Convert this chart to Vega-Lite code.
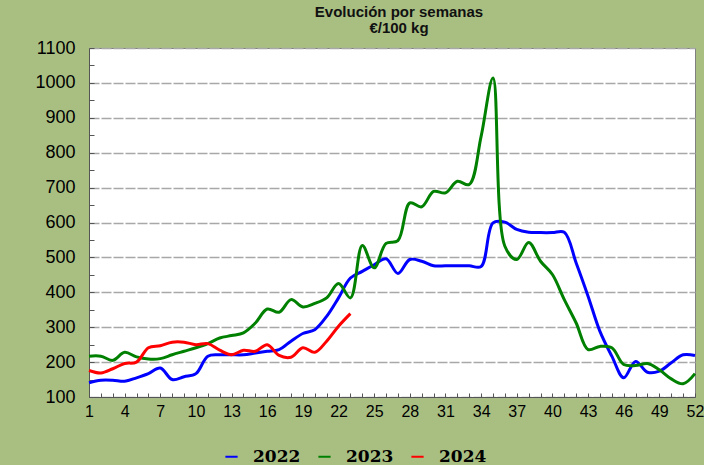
{
  "$schema": "https://vega.github.io/schema/vega-lite/v6.json",
  "width": 606,
  "height": 349,
  "autosize": {"type": "none"},
  "padding": {"left": 89, "top": 48, "right": 9, "bottom": 68},
  "background": "#a9bf82",
  "title": {
    "text": ["Evolución por semanas", "€/100 kg"],
    "font": "Liberation Sans",
    "fontSize": 15,
    "fontWeight": "bold",
    "color": "#111111",
    "lineHeight": 16,
    "offset": 3,
    "dx": 7,
    "anchor": "middle"
  },
  "data": {
    "values": [
      {"semana": 1, "year": "2022", "precio": 141}, {"semana": 2, "year": "2022", "precio": 148}, {"semana": 3, "year": "2022", "precio": 148}, {"semana": 4, "year": "2022", "precio": 145}, {"semana": 5, "year": "2022", "precio": 155}, {"semana": 6, "year": "2022", "precio": 167}, {"semana": 7, "year": "2022", "precio": 183}, {"semana": 8, "year": "2022", "precio": 150}, {"semana": 9, "year": "2022", "precio": 158}, {"semana": 10, "year": "2022", "precio": 167},
      {"semana": 11, "year": "2022", "precio": 217}, {"semana": 12, "year": "2022", "precio": 221}, {"semana": 13, "year": "2022", "precio": 221}, {"semana": 14, "year": "2022", "precio": 221}, {"semana": 15, "year": "2022", "precio": 226}, {"semana": 16, "year": "2022", "precio": 231}, {"semana": 17, "year": "2022", "precio": 236}, {"semana": 18, "year": "2022", "precio": 260}, {"semana": 19, "year": "2022", "precio": 282}, {"semana": 20, "year": "2022", "precio": 293},
      {"semana": 21, "year": "2022", "precio": 331}, {"semana": 22, "year": "2022", "precio": 384}, {"semana": 23, "year": "2022", "precio": 441}, {"semana": 24, "year": "2022", "precio": 460}, {"semana": 25, "year": "2022", "precio": 479}, {"semana": 26, "year": "2022", "precio": 496}, {"semana": 27, "year": "2022", "precio": 454}, {"semana": 28, "year": "2022", "precio": 494}, {"semana": 29, "year": "2022", "precio": 489}, {"semana": 30, "year": "2022", "precio": 476},
      {"semana": 31, "year": "2022", "precio": 476}, {"semana": 32, "year": "2022", "precio": 476}, {"semana": 33, "year": "2022", "precio": 476}, {"semana": 34, "year": "2022", "precio": 474}, {"semana": 35, "year": "2022", "precio": 599}, {"semana": 36, "year": "2022", "precio": 601}, {"semana": 37, "year": "2022", "precio": 580}, {"semana": 38, "year": "2022", "precio": 572}, {"semana": 39, "year": "2022", "precio": 571}, {"semana": 40, "year": "2022", "precio": 571},
      {"semana": 41, "year": "2022", "precio": 572}, {"semana": 42, "year": "2022", "precio": 484}, {"semana": 43, "year": "2022", "precio": 389}, {"semana": 44, "year": "2022", "precio": 288}, {"semana": 45, "year": "2022", "precio": 217}, {"semana": 46, "year": "2022", "precio": 155}, {"semana": 47, "year": "2022", "precio": 202}, {"semana": 48, "year": "2022", "precio": 171}, {"semana": 49, "year": "2022", "precio": 174}, {"semana": 50, "year": "2022", "precio": 198},
      {"semana": 51, "year": "2022", "precio": 221}, {"semana": 52, "year": "2022", "precio": 219},
      {"semana": 1, "year": "2023", "precio": 217}, {"semana": 2, "year": "2023", "precio": 217}, {"semana": 3, "year": "2023", "precio": 205}, {"semana": 4, "year": "2023", "precio": 228}, {"semana": 5, "year": "2023", "precio": 215}, {"semana": 6, "year": "2023", "precio": 209}, {"semana": 7, "year": "2023", "precio": 210}, {"semana": 8, "year": "2023", "precio": 221}, {"semana": 9, "year": "2023", "precio": 231}, {"semana": 10, "year": "2023", "precio": 241},
      {"semana": 11, "year": "2023", "precio": 253}, {"semana": 12, "year": "2023", "precio": 269}, {"semana": 13, "year": "2023", "precio": 276}, {"semana": 14, "year": "2023", "precio": 284}, {"semana": 15, "year": "2023", "precio": 312}, {"semana": 16, "year": "2023", "precio": 352}, {"semana": 17, "year": "2023", "precio": 343}, {"semana": 18, "year": "2023", "precio": 379}, {"semana": 19, "year": "2023", "precio": 358}, {"semana": 20, "year": "2023", "precio": 368},
      {"semana": 21, "year": "2023", "precio": 384}, {"semana": 22, "year": "2023", "precio": 425}, {"semana": 23, "year": "2023", "precio": 384}, {"semana": 24, "year": "2023", "precio": 534}, {"semana": 25, "year": "2023", "precio": 470}, {"semana": 26, "year": "2023", "precio": 540}, {"semana": 27, "year": "2023", "precio": 548}, {"semana": 28, "year": "2023", "precio": 656}, {"semana": 29, "year": "2023", "precio": 645}, {"semana": 30, "year": "2023", "precio": 689},
      {"semana": 31, "year": "2023", "precio": 685}, {"semana": 32, "year": "2023", "precio": 718}, {"semana": 33, "year": "2023", "precio": 709}, {"semana": 34, "year": "2023", "precio": 847}, {"semana": 35, "year": "2023", "precio": 1014}, {"semana": 36, "year": "2023", "precio": 532}, {"semana": 37, "year": "2023", "precio": 494}, {"semana": 38, "year": "2023", "precio": 543}, {"semana": 39, "year": "2023", "precio": 489}, {"semana": 40, "year": "2023", "precio": 451},
      {"semana": 41, "year": "2023", "precio": 379}, {"semana": 42, "year": "2023", "precio": 312}, {"semana": 43, "year": "2023", "precio": 236}, {"semana": 44, "year": "2023", "precio": 245}, {"semana": 45, "year": "2023", "precio": 241}, {"semana": 46, "year": "2023", "precio": 193}, {"semana": 47, "year": "2023", "precio": 190}, {"semana": 48, "year": "2023", "precio": 196}, {"semana": 49, "year": "2023", "precio": 178}, {"semana": 50, "year": "2023", "precio": 152},
      {"semana": 51, "year": "2023", "precio": 138}, {"semana": 52, "year": "2023", "precio": 167},
      {"semana": 1, "year": "2024", "precio": 176}, {"semana": 2, "year": "2024", "precio": 169}, {"semana": 3, "year": "2024", "precio": 181}, {"semana": 4, "year": "2024", "precio": 196}, {"semana": 5, "year": "2024", "precio": 200}, {"semana": 6, "year": "2024", "precio": 241}, {"semana": 7, "year": "2024", "precio": 247}, {"semana": 8, "year": "2024", "precio": 257}, {"semana": 9, "year": "2024", "precio": 257}, {"semana": 10, "year": "2024", "precio": 250},
      {"semana": 11, "year": "2024", "precio": 253}, {"semana": 12, "year": "2024", "precio": 234}, {"semana": 13, "year": "2024", "precio": 221}, {"semana": 14, "year": "2024", "precio": 234}, {"semana": 15, "year": "2024", "precio": 231}, {"semana": 16, "year": "2024", "precio": 250}, {"semana": 17, "year": "2024", "precio": 219}, {"semana": 18, "year": "2024", "precio": 214}, {"semana": 19, "year": "2024", "precio": 241}, {"semana": 20, "year": "2024", "precio": 228},
      {"semana": 21, "year": "2024", "precio": 260}, {"semana": 22, "year": "2024", "precio": 303}, {"semana": 23, "year": "2024", "precio": 339}
    ]
  },
  "mark": {"type": "line", "interpolate": "catmull-rom", "strokeWidth": 3},
  "encoding": {
    "x": {
      "field": "semana",
      "type": "quantitative",
      "scale": {"domain": [1, 52], "nice": false, "zero": false},
      "axis": {
        "title": null,
        "values": [1,2,3,4,5,6,7,8,9,10,11,12,13,14,15,16,17,18,19,20,21,22,23,24,25,26,27,28,29,30,31,32,33,34,35,36,37,38,39,40,41,42,43,44,45,46,47,48,49,50,51,52],
        "labelExpr": "(datum.value - 1) % 3 === 0 ? datum.label : ''",
        "labelFont": "Liberation Sans",
        "labelFontSize": 16,
        "labelColor": "#000000",
        "labelFlush": false,
        "labelPadding": 10,
        "tickSize": -4,
        "tickColor": "#555555",
        "domainColor": "#555555",
        "grid": false
      }
    },
    "y": {
      "field": "precio",
      "type": "quantitative",
      "scale": {"domain": [100, 1100], "nice": false, "zero": false},
      "axis": {
        "title": null,
        "values": [100,150,200,250,300,350,400,450,500,550,600,650,700,750,800,850,900,950,1000,1050,1100],
        "labelExpr": "datum.value % 100 === 0 ? datum.label : ''",
        "format": "d",
        "labelFont": "Liberation Sans",
        "labelFontSize": 18,
        "labelColor": "#000000",
        "labelPadding": 19,
        "tickSize": -5,
        "tickColor": "#555555",
        "domainColor": "#555555",
        "grid": true,
        "gridColor": "#a8a8a8",
        "gridDash": [10, 2],
        "gridWidth": 1.5,
        "gridOpacity": {"condition": {"test": "datum.value % 100 !== 0", "value": 0}, "value": 1}
      }
    },
    "color": {
      "field": "year",
      "type": "nominal",
      "scale": {"domain": ["2022", "2023", "2024"], "range": ["#0000ff", "#008000", "#ff0000"]},
      "legend": {
        "title": null,
        "orient": "none",
        "legendX": 134,
        "legendY": 400,
        "direction": "horizontal",
        "symbolType": "stroke",
        "symbolStrokeWidth": 2,
        "symbolSize": 150,
        "labelFont": "DejaVu Serif",
        "labelFontWeight": "bold",
        "labelFontSize": 17,
        "labelColor": "#000000",
        "labelOffset": 13,
        "columnPadding": 13
      }
    }
  },
  "config": {
    "view": {"fill": "#ffffff", "stroke": "#808080", "strokeWidth": 1}
  }
}
